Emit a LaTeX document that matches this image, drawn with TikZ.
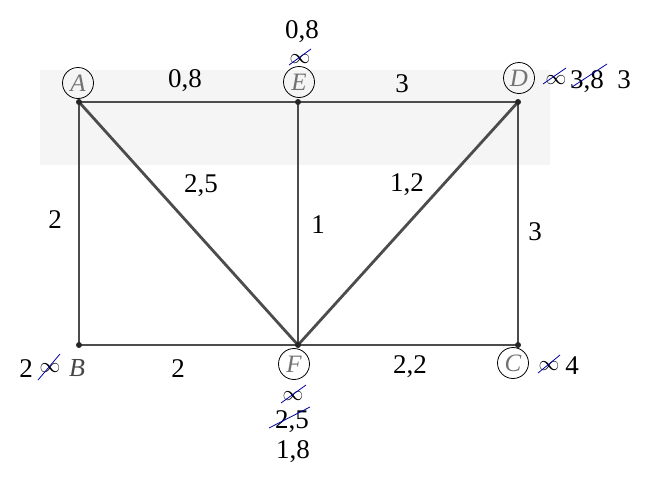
\documentclass[tikz,border=0pt]{standalone}
\usepackage{fontspec}
\setmainfont{Liberation Serif}
\begin{document}
\begin{tikzpicture}[x=1pt,y=-1pt,
  edge/.style={draw=black!70,line width=2.8pt},
  vdot/.style={fill=black!85,circle,inner sep=0pt,minimum size=6pt},
  vlabel/.style={draw=black,line width=0.8pt,circle,minimum size=31pt,inner sep=0pt,
    font=\fontsize{25}{25}\selectfont\itshape,text=black!55},
  num/.style={font=\fontsize{27}{27}\selectfont,anchor=base,inner sep=0pt},
  inf/.style={font=\fontsize{20}{20}\selectfont,anchor=center,inner sep=0pt},
  strike/.style={draw=blue!65!black,line width=0.8pt}]
\useasboundingbox (0,0) rectangle (655,480);
\fill[black!4] (40,70) rectangle (550,165);
% vertices
\coordinate (A) at (79,102);
\coordinate (E) at (298,102);
\coordinate (D) at (518,102);
\coordinate (B) at (79,345);
\coordinate (F) at (298,345);
\coordinate (C) at (518,345);
% edges
\draw[edge] (A) -- (E);
\draw[edge] (E) -- (D);
\draw[edge] (A) -- (B);
\draw[edge] (B) -- (F);
\draw[edge] (F) -- (C);
\draw[edge] (C) -- (D);
\draw[edge] (A) -- (F);
\draw[edge] (E) -- (F);
\draw[edge] (D) -- (F);
\foreach \v in {A,E,D,B,F,C} \node[vdot] (dot\v) at (\v) {};
% vertex labels
\node[vlabel] (lA) at (78,83) {A};
\node[vlabel] (lE) at (299,82) {E};
\node[vlabel] (lD) at (519,78) {D};
\node[vlabel] (lF) at (294,364) {F};
\node[vlabel] (lC) at (513,363) {C};
\node[font=\fontsize{26}{26}\selectfont\itshape,text=black!72,anchor=base,inner sep=0pt] (lB) at (77,376) {B};
% edge weights
\node[num] (wAE) at (185,87) {0,8};
\node[num] (wED) at (402,92) {3};
\node[num] (wAF) at (201,192) {2,5};
\node[num] (wDF) at (407,191) {1,2};
\node[num] (wAB) at (55,228) {2};
\node[num] (wEF) at (318,233) {1};
\node[num] (wCD) at (535,240) {3};
\node[num] (wBF) at (178,377) {2};
\node[num] (wFC) at (410,373) {2,2};
% labels at E
\node[num] (dE2) at (302,38) {0,8};
\node[inf] (dE1) at (300,59) {$\infty$};
\draw[strike] (289,65) -- (311,49);
% labels at D
\node[inf] (dD1) at (556,80) {$\infty$};
\draw[strike] (543,84) -- (566,68);
\node[num] (dD2) at (587,88) {3,8};
\draw[strike] (572,87) -- (607,64);
\node[num] (dD3) at (624,88) {3};
% labels at B
\node[num] (dB2) at (26,377) {2};
\node[inf] (dB1) at (50,368) {$\infty$};
\draw[strike] (38,380) -- (60,354);
% labels at C
\node[inf] (dC1) at (549,366) {$\infty$};
\draw[strike] (538,373) -- (560,355);
\node[num] (dC2) at (572,374) {4};
% labels at F
\node[inf] (dF1) at (293,396) {$\infty$};
\draw[strike] (281,403) -- (306,385);
\node[num] (dF2) at (292,428) {2,5};
\draw[strike] (269,428) -- (310,407);
\node[num] (dF3) at (293,458) {1,8};
\end{tikzpicture}
\end{document}
